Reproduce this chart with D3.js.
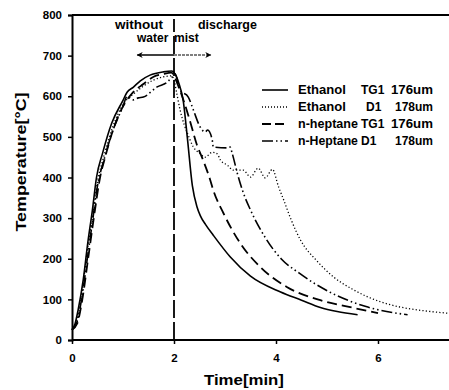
<!DOCTYPE html>
<html>
<head>
<meta charset="utf-8">
<script src="https://cdn.jsdelivr.net/npm/d3@7"></script>
<style>
  body { margin: 0; background: #fff; }
  svg { display: block; font-family: "Liberation Sans", Arial, sans-serif; font-weight: bold; }
</style>
</head>
<body>
<svg id="chart" width="449" height="390"></svg>
<script>
// tick values
var xTicks = [0, 2, 4, 6];
var yTicks = [0, 100, 200, 300, 400, 500, 600, 700, 800];

// [time (min), temperature (°C)]
var ethanolTG1 = [[0,25],[0.06,40],[0.12,74],[0.22,148],[0.31,240],[0.4,320],[0.48,400],[0.6,460],[0.78,534],
  [1.0,590],[1.08,610],[1.2,622],[1.34,638],[1.53,652],[1.79,660],[1.96,662],[2.02,655],[2.1,630],[2.18,590],
  [2.26,500],[2.36,380],[2.45,328],[2.52,305],[2.62,284],[2.77,258],[3.1,205],[3.5,157],[4.09,118],[4.5,98],[4.87,80],[5.2,70],[5.6,62]];
var ethanolD1 = [[0,25],[0.1,50],[0.2,120],[0.3,220],[0.4,300],[0.5,390],[0.62,450],[0.8,525],[1.0,580],[1.2,605],
  [1.4,625],[1.6,640],[1.8,648],[1.95,650],[2.0,640],[2.05,610],[2.12,566],[2.2,530],[2.26,510],[2.38,475],[2.5,460],
  [2.61,450],[2.75,462],[2.85,458],[2.91,443],[3.05,430],[3.16,418],[3.36,418],[3.5,401],[3.65,423],[3.79,399],
  [3.93,420],[4.05,377],[4.15,345],[4.3,295],[4.48,246],[4.8,195],[5.13,155],[5.5,125],[5.8,106],[6.1,92],[6.44,81],[6.9,72],[7.37,66]];
var heptaneTG1 = [[0,25],[0.1,40],[0.2,98],[0.32,204],[0.45,320],[0.55,400],[0.65,450],[0.8,515],[1.0,575],[1.2,610],
  [1.4,630],[1.6,648],[1.8,655],[1.95,658],[2.0,650],[2.1,620],[2.2,585],[2.3,545],[2.45,480],[2.57,443],[2.71,394],
  [2.77,369],[2.97,312],[3.3,238],[3.69,180],[4.22,130],[4.87,98],[5.52,79],[6.0,66]];
var heptaneD1 = [[0,25],[0.1,45],[0.2,110],[0.3,200],[0.4,290],[0.5,380],[0.62,440],[0.8,515],[1.0,575],[1.08,600],
  [1.2,591],[1.3,596],[1.4,598],[1.67,623],[1.87,635],[1.96,647],[2.02,655],[2.12,615],[2.28,598],[2.38,566],[2.51,525],
  [2.61,512],[2.66,517],[2.75,492],[2.77,475],[3.05,473],[3.1,475],[3.14,460],[3.24,411],[3.36,362],[3.5,320],
  [3.8,250],[4.1,200],[4.45,165],[5.1,115],[5.8,81],[6.58,62]];

var seriesNames = ["Ethanol", "Ethanol", "n-heptane", "n-Heptane"];
var seriesProbe = ["TG1", "D1", "TG1", "D1"];
var seriesSize = ["176um", "178um", "176um", "178um"];

var svg = d3.select("#chart");
var x = d3.scaleLinear().domain([0, 8]).range([72, 480]);
var y = d3.scaleLinear().domain([0, 800]).range([340, 15]);

var styles = [
  {dash: null, width: 1.6, legendDash: null},
  {dash: "1.2,2.2", width: 1.3, legendDash: "1,2"},
  {dash: "10,5", width: 1.8, legendDash: "9,4"},
  {dash: "11,3,1.5,3,1.5,3", width: 1.6, legendDash: "11,3,1.5,3,1.5,3"}
];
var allData = [ethanolTG1, ethanolD1, heptaneTG1, heptaneD1];

// frame
svg.append("line").attr("x1", x(0)).attr("x2", 449).attr("y1", y(800)).attr("y2", y(800))
  .attr("stroke", "#000").attr("stroke-width", 2);

var xAxis = svg.append("g").attr("transform", "translate(0," + y(0) + ")")
  .call(d3.axisBottom(x).tickValues(xTicks).tickSize(4).tickFormat(d3.format("d")));
xAxis.select(".domain").attr("d", "M" + x(0) + ",0H449").attr("stroke-width", 2);
xAxis.selectAll("line").attr("stroke-width", 1.5);
xAxis.selectAll("text").attr("y", 14).attr("font-size", 11.5).attr("font-family", "Liberation Sans").attr("font-weight", "bold");

var yAxis = svg.append("g").attr("transform", "translate(" + x(0) + ",0)")
  .call(d3.axisLeft(y).tickValues(yTicks).tickSize(4));
yAxis.select(".domain").attr("stroke-width", 2);
yAxis.selectAll("line").attr("stroke-width", 1.5);
yAxis.selectAll("text").attr("x", -10).attr("font-size", 11.5).attr("font-family", "Liberation Sans").attr("font-weight", "bold");

// discharge marker
svg.append("line").attr("x1", x(2)).attr("x2", x(2)).attr("y1", y(0)).attr("y2", y(790))
  .attr("stroke", "#000").attr("stroke-width", 1.8).attr("stroke-dasharray", "18,4");

var line = d3.line().x(function(d){ return x(d[0]); }).y(function(d){ return y(d[1]); })
  .curve(d3.curveMonotoneX);

for (var i = 0; i < allData.length; i++) {
  svg.append("path").datum(allData[i]).attr("d", line)
    .attr("fill", "none").attr("stroke", "#000")
    .attr("stroke-width", styles[i].width)
    .attr("stroke-dasharray", styles[i].dash);
}

// arrows
var defs = svg.append("defs");
defs.append("marker").attr("id", "head").attr("viewBox", "0 0 10 10").attr("refX", 9).attr("refY", 5)
  .attr("markerWidth", 9).attr("markerHeight", 6).attr("markerUnits", "userSpaceOnUse").attr("orient", "auto")
  .append("path").attr("d", "M0,0L10,5L0,10L3,5Z").attr("fill", "#000");
svg.append("line").attr("x1", x(2)).attr("x2", x(1.28)).attr("y1", 55).attr("y2", 55)
  .attr("stroke", "#000").attr("stroke-width", 1.4).attr("marker-end", "url(#head)");
svg.append("line").attr("x1", x(2)).attr("x2", x(2.72)).attr("y1", 55).attr("y2", 55)
  .attr("stroke", "#000").attr("stroke-width", 1.2).attr("stroke-dasharray", "3,1").attr("marker-end", "url(#head)");

// text is stretched sideways up to the width it has in the figure (never squeezed)
function label(txt, left, base, len, size) {
  var t = svg.append("text").attr("font-size", size || 12).text(txt);
  var w = t.node().getComputedTextLength();
  t.attr("transform", "translate(" + left + "," + base + ") scale(" + Math.max(1, len / w) + ",1)");
  return t;
}
label("without", 115, 29, 48);
label("discharge", 198, 29, 59);
label("water", 137, 42, 31);
label("mist", 174, 42, 24);

// legend
var rowY = [90, 107, 124, 141];
var nameLen = [48, 48, 60, 60];
var probeX = [361, 366, 361, 361];
var sizeX = [391, 395, 391, 395];
var sizeLen = [42, 37, 42, 37];
for (var j = 0; j < 4; j++) {
  svg.append("line").attr("x1", 262).attr("x2", 288).attr("y1", rowY[j]).attr("y2", rowY[j])
    .attr("stroke", "#000").attr("stroke-width", styles[j].width)
    .attr("stroke-dasharray", styles[j].legendDash);
  label(seriesNames[j], 298, rowY[j] + 4, nameLen[j]);
  label(seriesProbe[j], probeX[j], rowY[j] + 4, 0);
  label(seriesSize[j], sizeX[j], rowY[j] + 4, sizeLen[j]);
}

// axis titles
label("Time[min]", 204, 385, 80, 14.5);
svg.append("text").attr("transform", "translate(26,162) rotate(-90)")
  .attr("text-anchor", "middle").attr("font-size", 14.5)
  .attr("textLength", 139).attr("lengthAdjust", "spacingAndGlyphs").text("Temperature[°C]");
</script>
</body>
</html>
